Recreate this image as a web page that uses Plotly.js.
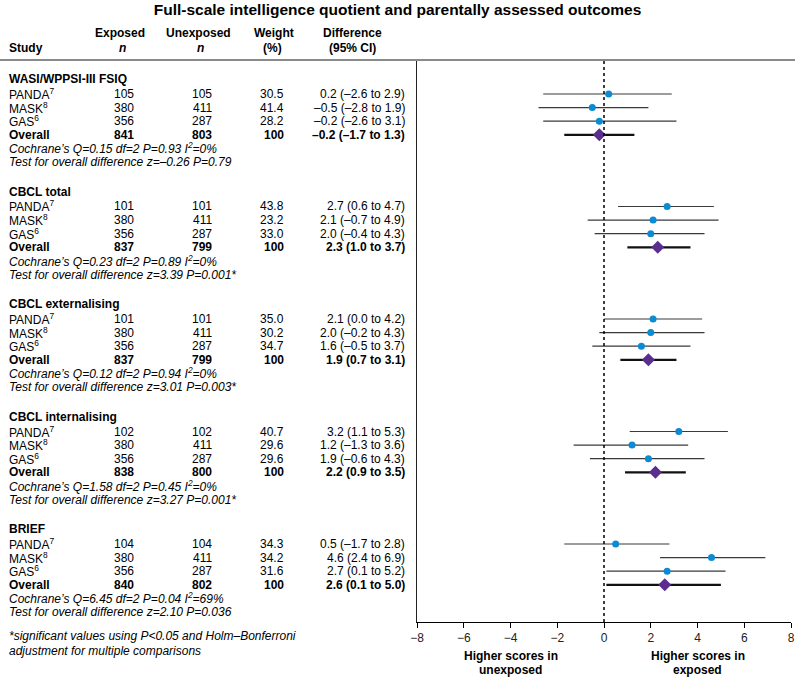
<!DOCTYPE html>
<html><head><meta charset="utf-8">
<script src="https://cdn.plot.ly/plotly-3.0.1.min.js"></script>
<style>html,body{margin:0;padding:0;background:#fff}#chart{width:795px;height:679px}</style>
</head><body><div id="chart"></div>
<script>
// ---------------- data ----------------
const outcomes = ['WASI/WPPSI-III FSIQ', 'CBCL total', 'CBCL externalising', 'CBCL internalising', 'BRIEF'];
const studies = ['PANDA', 'MASK', 'GAS'];
const studyRefs = ['7', '8', '6'];
const exposedN = [[105, 380, 356], [101, 380, 356], [101, 380, 356], [102, 380, 356], [104, 380, 356]];
const unexposedN = [[105, 411, 287], [101, 411, 287], [101, 411, 287], [102, 411, 287], [104, 411, 287]];
const weights = [[30.5, 41.4, 28.2], [43.8, 23.2, 33.0], [35.0, 30.2, 34.7], [40.7, 29.6, 29.6], [34.3, 34.2, 31.6]];
const studyEst = [[0.2, -0.5, -0.2], [2.7, 2.1, 2.0], [2.1, 2.0, 1.6], [3.2, 1.2, 1.9], [0.5, 4.6, 2.7]];
const studyLo = [[-2.6, -2.8, -2.6], [0.6, -0.7, -0.4], [0.0, -0.2, -0.5], [1.1, -1.3, -0.6], [-1.7, 2.4, 0.1]];
const studyHi = [[2.9, 1.9, 3.1], [4.7, 4.9, 4.3], [4.2, 4.3, 3.7], [5.3, 3.6, 4.3], [2.8, 6.9, 5.2]];
const overallExposedN = [841, 837, 837, 838, 840];
const overallUnexposedN = [803, 799, 799, 800, 802];
const overallWeight = [100, 100, 100, 100, 100];
const overallEst = [-0.2, 2.3, 1.9, 2.2, 2.6];
const overallLo = [-1.7, 1.0, 0.7, 0.9, 0.1];
const overallHi = [1.3, 3.7, 3.1, 3.5, 5.0];
const cochraneQ = ['0.15', '0.23', '0.12', '1.58', '6.45'];
const cochraneDf = ['2', '2', '2', '2', '2'];
const cochraneP = ['0.93', '0.89', '0.94', '0.45', '0.04'];
const cochraneI2 = ['0', '0', '0', '0', '69'];
const testZ = ['–0.26', '3.39', '3.01', '3.27', '2.10'];
const testP = ['0.79', '0.001*', '0.003*', '0.001*', '0.036'];
const xTickVals = [-8, -6, -4, -2, 0, 2, 4, 6, 8];
const titleText = 'Full-scale intelligence quotient and parentally assessed outcomes';
const footnote = ['*significant values using P&lt;0.05 and Holm–Bonferroni', 'adjustment for multiple comparisons'];
const favourLabels = [['Higher scores in', 'unexposed'], ['Higher scores in', 'exposed']];
const favourX = [-4, 4];

// ---------------- layout helpers ----------------
const FONT = 'Liberation Sans, Arial, Helvetica, sans-serif';
const W = 795, H = 679, ML = 417, MR = 4, MT = 60, MB = 57;
const PW = W - ML - MR, PH = H - MT - MB;
const xp = px => (px - ML) / PW;
const yp = py => (H - MB - py) / PH;
const secY = s => 94 + 112.5 * s;
const rowPx = (s, k) => secY(s) + k * 13.6;
const fmt = v => (v < 0 ? '–' : '') + Math.abs(v).toFixed(1);
const COL = {study: 8, exp: 124, unexp: 202, weight: 285, diff: 406};

const annotations = [];
function ann(text, xPx, yPx, anchor, size) {
  annotations.push({text: text, xref: 'paper', yref: 'paper', x: xp(xPx), y: yp(yPx),
    xanchor: anchor, yanchor: 'middle', showarrow: false, borderpad: 0,
    font: {family: FONT, size: size || 12, color: '#000'}});
}

// headers
ann('<b>Exposed</b>', 120, 33, 'center');
ann('<b><i>n</i></b>', 122, 48, 'center');
ann('<b>Unexposed</b>', 198, 33, 'center');
ann('<b><i>n</i></b>', 200, 48, 'center');
ann('<b>Weight</b>', 274, 33, 'center');
ann('<b>(%)</b>', 272, 48, 'center');
ann('<b>Difference</b>', 352, 33, 'center');
ann('<b>(95% CI)</b>', 352, 48, 'center');
ann('<b>Study</b>', COL.study, 48, 'left');

const ptX = [], ptY = [], ptPlus = [], ptMinus = [];
const ovX = [], ovY = [], ovPlus = [], ovMinus = [];

outcomes.forEach((name, s) => {
  ann('<b>' + name + '</b>', COL.study, secY(s) - 15, 'left');
  studies.forEach((st, k) => {
    const y = rowPx(s, k);
    ann(st + '<sup>' + studyRefs[k] + '</sup>', COL.study, y, 'left');
    ann(String(exposedN[s][k]), COL.exp, y, 'center');
    ann(String(unexposedN[s][k]), COL.unexp, y, 'center');
    ann(weights[s][k].toFixed(1), COL.weight, y, 'right');
    ann(fmt(studyEst[s][k]) + ' (' + fmt(studyLo[s][k]) + ' to ' + fmt(studyHi[s][k]) + ')', COL.diff, y, 'right');
    ptX.push(studyEst[s][k]);
    ptY.push(y - MT);
    ptPlus.push(studyHi[s][k] - studyEst[s][k]);
    ptMinus.push(studyEst[s][k] - studyLo[s][k]);
  });
  const yo = rowPx(s, 3);
  ann('<b>Overall</b>', COL.study, yo, 'left');
  ann('<b>' + overallExposedN[s] + '</b>', COL.exp, yo, 'center');
  ann('<b>' + overallUnexposedN[s] + '</b>', COL.unexp, yo, 'center');
  ann('<b>' + overallWeight[s] + '</b>', COL.weight, yo, 'right');
  ann('<b>' + fmt(overallEst[s]) + ' (' + fmt(overallLo[s]) + ' to ' + fmt(overallHi[s]) + ')</b>', COL.diff, yo, 'right');
  ovX.push(overallEst[s]);
  ovY.push(yo - MT);
  ovPlus.push(overallHi[s] - overallEst[s]);
  ovMinus.push(overallEst[s] - overallLo[s]);
  ann('<i>Cochrane’s Q=' + cochraneQ[s] + ' df=' + cochraneDf[s] + ' P=' + cochraneP[s] + ' I<sup>2</sup>=' + cochraneI2[s] + '%</i>', COL.study, rowPx(s, 4), 'left');
  ann('<i>Test for overall difference z=' + testZ[s] + ' P=' + testP[s] + '</i>', COL.study, rowPx(s, 5), 'left');
});

ann('<i>' + footnote[0] + '</i>', COL.study, 636, 'left');
ann('<i>' + footnote[1] + '</i>', COL.study, 651, 'left');

favourLabels.forEach((lines, i) => {
  lines.forEach((t, j) => {
    annotations.push({text: '<b>' + t + '</b>', xref: 'x', yref: 'paper', x: favourX[i], y: yp(656 + 14 * j),
      xanchor: 'center', yanchor: 'middle', showarrow: false, borderpad: 0,
      font: {family: FONT, size: 12, color: '#000'}});
  });
});

const traces = [
  {type: 'scatter', mode: 'markers', x: ptX, y: ptY, hoverinfo: 'skip', cliponaxis: false,
   marker: {symbol: 'circle', size: 7, color: '#0b8bd1'},
   error_x: {type: 'data', symmetric: false, array: ptPlus, arrayminus: ptMinus, width: 0, thickness: 1.2, color: '#3a3a3a'}},
  {type: 'scatter', mode: 'markers', x: ovX, y: ovY, hoverinfo: 'skip', cliponaxis: false,
   marker: {symbol: 'diamond', size: 10, color: '#5b2d8f'},
   error_x: {type: 'data', symmetric: false, array: ovPlus, arrayminus: ovMinus, width: 0, thickness: 2.2, color: '#111'}}
];

const layout = {
  width: W, height: H,
  margin: {l: ML, r: MR, t: MT, b: MB, pad: 0},
  paper_bgcolor: '#fff', plot_bgcolor: '#fff',
  showlegend: false,
  title: {text: '<b>' + titleText + '</b>', xref: 'container', x: 0.5, xanchor: 'center',
          yref: 'container', y: 1 - 10 / H, yanchor: 'middle',
          font: {family: FONT, size: 15.5, color: '#000'}},
  xaxis: {range: [-8, 8], tickvals: xTickVals, ticks: 'outside', ticklen: 5, tickwidth: 1, tickcolor: '#000',
          showline: true, linecolor: '#000', linewidth: 1, showgrid: false, zeroline: false,
          tickfont: {family: FONT, size: 12, color: '#222'}, fixedrange: true},
  yaxis: {range: [PH, 0], showline: true, linecolor: '#222', linewidth: 1.2, showgrid: false,
          zeroline: false, showticklabels: false, ticks: '', fixedrange: true},
  shapes: [
    {type: 'line', xref: 'x', yref: 'paper', x0: 0, x1: 0, y0: 0, y1: 1,
     line: {color: '#000', width: 1.5, dash: 'dot'}},
    {type: 'line', xref: 'paper', yref: 'paper', x0: xp(0), x1: xp(W), y0: 1, y1: 1,
     line: {color: '#8a8a8a', width: 2}}
  ],
  annotations: annotations
};

Plotly.newPlot('chart', traces, layout, {displayModeBar: false, staticPlot: true});
</script></body></html>
